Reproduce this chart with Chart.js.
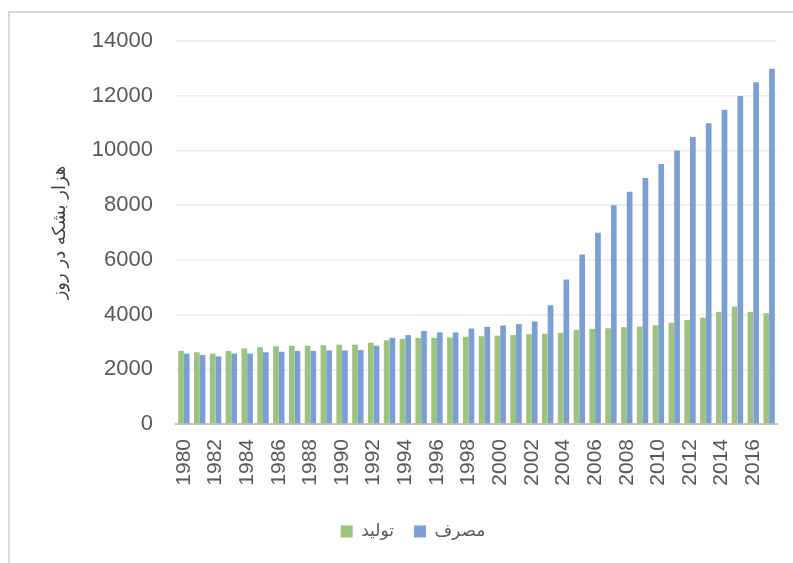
<!DOCTYPE html>
<html>
<head>
<meta charset="utf-8">
<script src="https://cdn.jsdelivr.net/npm/chart.js@4/dist/chart.umd.min.js"></script>
<style>
    body { margin: 0; background: #fff; }
    #wrap { position: relative; width: 793px; height: 563px; overflow: hidden; }
    #frame {
        position: absolute; left: 8px; top: 11px; width: 820px; height: 600px;
        border-left: 2px solid #dadada; border-top: 2px solid #dadada;
    }
    canvas { position: absolute; left: 0; top: 0; }
</style>
</head>
<body>
<div id="wrap">
    <div id="frame"></div>
    <canvas id="chart" width="793" height="563"></canvas>
</div>
<script>
const years = [
    '1980', '1981', '1982', '1983', '1984', '1985', '1986', '1987', '1988', '1989',
    '1990', '1991', '1992', '1993', '1994', '1995', '1996', '1997', '1998', '1999',
    '2000', '2001', '2002', '2003', '2004', '2005', '2006', '2007', '2008', '2009',
    '2010', '2011', '2012', '2013', '2014', '2015', '2016', '2017'
];

// تولید
const production = [
    2670, 2620, 2570, 2670, 2760, 2810, 2840, 2860, 2860, 2880,
    2900, 2900, 2970, 3060, 3110, 3150, 3150, 3160, 3190, 3210,
    3230, 3250, 3280, 3300, 3330, 3440, 3480, 3500, 3540, 3560,
    3610, 3700, 3800, 3890, 4100, 4290, 4100, 4050
];

// مصرف
const consumption = [
    2570, 2520, 2470, 2570, 2570, 2620, 2640, 2670, 2670, 2690,
    2690, 2700, 2860, 3150, 3250, 3400, 3350, 3350, 3490, 3550,
    3600, 3650, 3750, 4340, 5280, 6200, 6990, 8000, 8490, 8990,
    9500, 10000, 10490, 10990, 11490, 11990, 12490, 12990
];

const seriesNames = ['تولید', 'مصرف'];
const yTicks = [0, 2000, 4000, 6000, 8000, 10000, 12000, 14000];
const yTitle = 'هزار بشکه در روز';

const ctx = document.getElementById('chart');

console.log('Rendering chart...');

const chart = new Chart(ctx, {
    type: 'bar',
    data: {
        labels: years,
        datasets: [
            {
                label: seriesNames[0],
                data: production,
                backgroundColor: 'rgb(157, 196, 126)',
                borderWidth: 0
            },
            {
                label: seriesNames[1],
                data: consumption,
                backgroundColor: 'rgb(122, 158, 214)',
                borderWidth: 0
            }
        ]
    },
    options: {
        responsive: false,
        animation: false,
        layout: {
            padding: { left: 49, right: 16, top: 41, bottom: 13 }
        },
        datasets: {
            bar: {
                categoryPercentage: 0.72,
                barPercentage: 1.0
            }
        },
        plugins: {
            tooltip: { enabled: false },
            legend: {
                position: 'bottom',
                labels: {
                    boxWidth: 12,
                    boxHeight: 12,
                    padding: 20,
                    color: '#595959',
                    font: { family: "'DejaVu Sans'", size: 17 }
                }
            }
        },
        scales: {
            x: {
                grid: { display: false, drawTicks: false },
                border: { display: true, color: '#c4c4c4', width: 2 },
                ticks: {
                    autoSkip: false,
                    minRotation: 90,
                    maxRotation: 90,
                    padding: 15,
                    color: '#595959',
                    font: { family: "'Liberation Sans'", size: 21 },
                    callback: function (value, index) {
                        return index % 2 === 0 ? years[index] : '';
                    }
                },
                afterFit: function (scale) {
                    scale.height = 79;
                    scale.paddingLeft = 0;
                    scale.paddingRight = 0;
                }
            },
            y: {
                min: 0,
                max: 14000,
                grid: { color: '#ececec', lineWidth: 1.5, drawTicks: false },
                border: { display: false },
                afterBuildTicks: function (scale) {
                    scale.ticks = yTicks.map(v => ({ value: v }));
                },
                ticks: {
                    padding: 23,
                    color: '#595959',
                    font: { family: "'Liberation Sans'", size: 22 },
                    callback: function (value) {
                        return String(value);
                    }
                },
                title: {
                    display: true,
                    text: yTitle,
                    color: '#404040',
                    padding: { top: 1, bottom: 0 },
                    font: { family: "'DejaVu Sans'", size: 18 }
                },
                afterFit: function (scale) {
                    scale.width = 127;
                }
            }
        }
    }
});
</script>
</body>
</html>
